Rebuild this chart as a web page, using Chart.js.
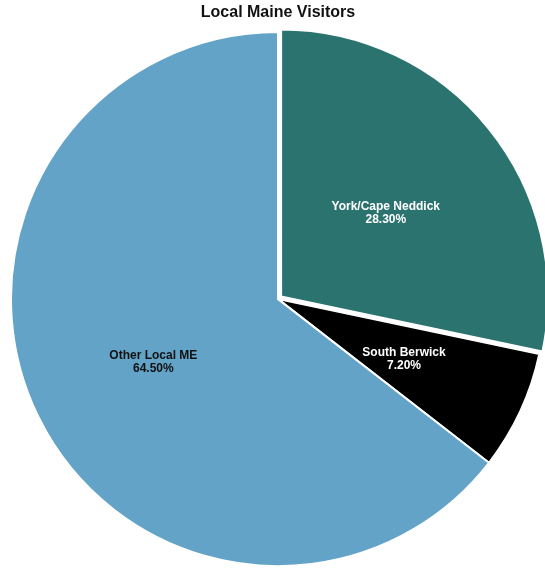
<!DOCTYPE html>
<html>
<head>
<meta charset="utf-8">
<script src="https://cdn.jsdelivr.net/npm/chart.js@4/dist/chart.umd.min.js"></script>
<style>
  body { margin: 0; background: #fff; }
  canvas { display: block; }
</style>
</head>
<body>
<canvas id="visitorsChart" width="545" height="569"></canvas>
<script>
// share of local Maine visitors by town
const towns = ["York/Cape Neddick", "South Berwick", "Other Local ME"];
const shares = [28.3, 7.2, 64.5];
const sliceColors = ["#2b736f", "#000000", "#62a3c7"];
const labelColors = ["#ffffff", "#ffffff", "#111111"];

// writes the town name and percent a bit past the middle of each slice
const sliceLabels = {
  id: "sliceLabels",
  afterDatasetsDraw(chart) {
    const ctx = chart.ctx;
    const meta = chart.getDatasetMeta(0);
    ctx.save();
    ctx.font = "bold 12px 'Liberation Sans', Arial, sans-serif";
    ctx.textAlign = "center";
    ctx.textBaseline = "middle";
    meta.data.forEach((arc, i) => {
      const mid = (arc.startAngle + arc.endAngle) / 2;
      const r = arc.outerRadius * 0.52;
      const x = arc.x + Math.cos(mid) * r;
      const y = arc.y + Math.sin(mid) * r + 2;
      ctx.fillStyle = labelColors[i];
      ctx.fillText(towns[i], x, y - 6.5);
      ctx.fillText(shares[i].toFixed(2) + "%", x, y + 6.5);
    });
    ctx.restore();
  }
};

const ctx = document.getElementById("visitorsChart").getContext("2d");
const chart = new Chart(ctx, {
  type: "pie",
  data: {
    labels: towns,
    datasets: [
      {
        data: shares,
        backgroundColor: sliceColors,
        borderColor: "#ffffff",
        borderWidth: 2,
        offset: [16, 0, 0],
      },
    ],
  },
  options: {
    responsive: false,
    animation: false,
    radius: 267,
    layout: { padding: { left: 11 } },
    plugins: {
      legend: { display: false },
      tooltip: { enabled: false },
      title: {
        display: true,
        text: "Local Maine Visitors",
        color: "#111111",
        font: { family: "'Liberation Sans', Arial, sans-serif", size: 16, weight: "bold" },
        padding: { top: 3, bottom: 7 },
      },
    },
  },
  plugins: [sliceLabels],
});
</script>
</body>
</html>
